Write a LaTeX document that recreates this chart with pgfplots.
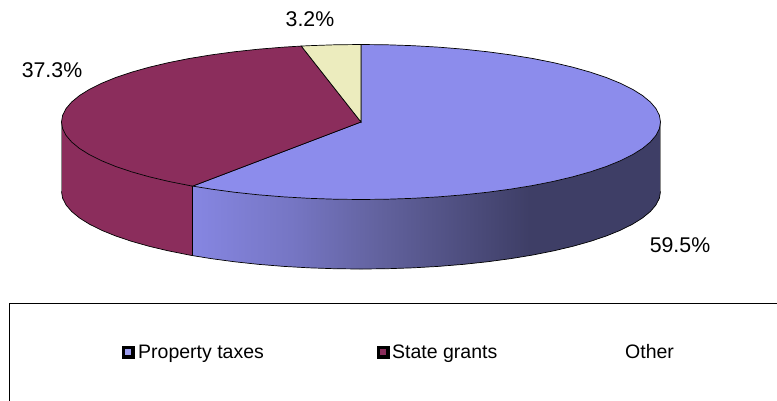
\documentclass[border=0pt]{standalone}
\usepackage{pgfplots}
\pgfplotsset{compat=1.18}
\usepackage{fontspec}
\setmainfont{Liberation Sans}

\definecolor{taxes}{HTML}{8C8CEC}
\definecolor{grants}{HTML}{8B2D5C}
\definecolor{other}{HTML}{ECECBE}
\definecolor{taxeslight}{HTML}{8686E2}
\definecolor{taxesmid}{HTML}{7676C4}
\definecolor{taxesdeep}{HTML}{62629E}
\definecolor{taxesdark}{HTML}{3E3E66}

% Rim of the property-tax slice, light on the left and dark towards the right
\pgfdeclarehorizontalshading{taxesrim}{100bp}{
  color(0bp)=(taxeslight); color(25bp)=(taxeslight); color(35.5bp)=(taxesmid);
  color(45bp)=(taxesdeep); color(61bp)=(taxesdark); color(100bp)=(taxesdark)}

\begin{document}
\begin{tikzpicture}
\useasboundingbox (0,0) rectangle (777pt,400pt);
\begin{axis}[
  at={(0,0)}, anchor=south west,
  scale only axis, width=777pt, height=400pt,
  axis lines=none,
  xmin=-1.20534, xmax=1.38898,
  ymin=-3.58710, ymax=1.57419,
  clip=true,
  every axis plot/.append style={line width=0.7pt},
]
% Outer wall, property taxes 59.5% (front right)
\addplot[draw=none, shade, shading=taxesrim] coordinates {
  (1,0) (.9962,-.0872) (.9848,-.1736) (.9659,-.2588) (.9397,-.3420) (.9063,-.4226)
  (.8660,-.5) (.8192,-.5736) (.7660,-.6428) (.7071,-.7071) (.6428,-.7660) (.5736,-.8192)
  (.5,-.8660) (.4226,-.9063) (.3420,-.9397) (.2588,-.9659) (.1736,-.9848) (.0872,-.9962)
  (0,-1) (-.0872,-.9962) (-.1736,-.9848) (-.2588,-.9659) (-.3420,-.9397) (-.4226,-.9063)
  (-.5,-.8660) (-.5621,-.8271)
  (-.5621,-1.7241) (-.5,-1.763) (-.4226,-1.8033) (-.3420,-1.8367) (-.2588,-1.8629)
  (-.1736,-1.8818) (-.0872,-1.8932) (0,-1.897) (.0872,-1.8932) (.1736,-1.8818)
  (.2588,-1.8629) (.3420,-1.8367) (.4226,-1.8033) (.5,-1.763) (.5736,-1.7162)
  (.6428,-1.663) (.7071,-1.6041) (.7660,-1.5398) (.8192,-1.4706) (.8660,-1.397)
  (.9063,-1.3196) (.9397,-1.239) (.9659,-1.1558) (.9848,-1.0706) (.9962,-.9842) (1,-.897)
} --cycle;
% Outer wall, state grants 37.3% (front left)
\addplot[draw=none, fill=grants] coordinates {
  (-.5621,-.8271) (-.5736,-.8192) (-.6428,-.7660) (-.7071,-.7071) (-.7660,-.6428)
  (-.8192,-.5736) (-.8660,-.5) (-.9063,-.4226) (-.9397,-.3420) (-.9659,-.2588)
  (-.9848,-.1736) (-.9962,-.0872) (-1,0)
  (-1,-.897) (-.9962,-.9842) (-.9848,-1.0706) (-.9659,-1.1558) (-.9397,-1.239)
  (-.9063,-1.3196) (-.8660,-1.397) (-.8192,-1.4706) (-.7660,-1.5398) (-.7071,-1.6041)
  (-.6428,-1.663) (-.5736,-1.7162) (-.5621,-1.7241)
} --cycle;
% Wall outline: pale silhouette edges, dark seam and lower rim
\addplot[draw=black!45, line width=0.6pt] coordinates {(1,0) (1,-.897)};
\addplot[draw=black!45, line width=0.6pt] coordinates {(-1,0) (-1,-.897)};
\addplot[draw=black] coordinates {(-.5621,-.8271) (-.5621,-1.7241)};
\addplot[draw=black] coordinates {
  (-1,-.897) (-.9962,-.9842) (-.9848,-1.0706) (-.9659,-1.1558) (-.9397,-1.239)
  (-.9063,-1.3196) (-.8660,-1.397) (-.8192,-1.4706) (-.7660,-1.5398) (-.7071,-1.6041)
  (-.6428,-1.663) (-.5736,-1.7162) (-.5621,-1.7241) (-.5,-1.763) (-.4226,-1.8033)
  (-.3420,-1.8367) (-.2588,-1.8629) (-.1736,-1.8818) (-.0872,-1.8932) (0,-1.897)
  (.0872,-1.8932) (.1736,-1.8818) (.2588,-1.8629) (.3420,-1.8367) (.4226,-1.8033)
  (.5,-1.763) (.5736,-1.7162) (.6428,-1.663) (.7071,-1.6041) (.7660,-1.5398)
  (.8192,-1.4706) (.8660,-1.397) (.9063,-1.3196) (.9397,-1.239) (.9659,-1.1558)
  (.9848,-1.0706) (.9962,-.9842) (1,-.897)
};
% Top face, property taxes: 0 to 214.2 degrees clockwise from twelve o'clock
\addplot[draw=black, fill=taxes] coordinates {
  (0,0) (0,1) (.0872,.9962) (.1736,.9848) (.2588,.9659) (.3420,.9397) (.4226,.9063)
  (.5,.8660) (.5736,.8192) (.6428,.7660) (.7071,.7071) (.7660,.6428) (.8192,.5736)
  (.8660,.5) (.9063,.4226) (.9397,.3420) (.9659,.2588) (.9848,.1736) (.9962,.0872)
  (1,0) (.9962,-.0872) (.9848,-.1736) (.9659,-.2588) (.9397,-.3420) (.9063,-.4226)
  (.8660,-.5) (.8192,-.5736) (.7660,-.6428) (.7071,-.7071) (.6428,-.7660) (.5736,-.8192)
  (.5,-.8660) (.4226,-.9063) (.3420,-.9397) (.2588,-.9659) (.1736,-.9848) (.0872,-.9962)
  (0,-1) (-.0872,-.9962) (-.1736,-.9848) (-.2588,-.9659) (-.3420,-.9397) (-.4226,-.9063)
  (-.5,-.8660) (-.5621,-.8271)
} --cycle;
% Top face, state grants: 214.2 to 348.5 degrees
\addplot[draw=black, fill=grants] coordinates {
  (0,0) (-.5621,-.8271) (-.5736,-.8192) (-.6428,-.7660) (-.7071,-.7071) (-.7660,-.6428)
  (-.8192,-.5736) (-.8660,-.5) (-.9063,-.4226) (-.9397,-.3420) (-.9659,-.2588)
  (-.9848,-.1736) (-.9962,-.0872) (-1,0) (-.9962,.0872) (-.9848,.1736) (-.9659,.2588)
  (-.9397,.3420) (-.9063,.4226) (-.8660,.5) (-.8192,.5736) (-.7660,.6428) (-.7071,.7071)
  (-.6428,.7660) (-.5736,.8192) (-.5,.8660) (-.4226,.9063) (-.3420,.9397) (-.2588,.9659)
  (-.1994,.9799)
} --cycle;
% Top face, other: 348.5 to 360 degrees
\addplot[draw=black, fill=other] coordinates {
  (0,0) (-.1994,.9799) (-.1736,.9848) (-.0872,.9962) (0,1)
} --cycle;

% Percentage labels
\node[anchor=center, font=\fontsize{21.3}{25}\selectfont] at (axis cs:-.1703,1.329) {3.2\%};
\node[anchor=center, font=\fontsize{21.3}{25}\selectfont] at (axis cs:-1.0317,.671) {37.3\%};
\node[anchor=center, font=\fontsize{21.3}{25}\selectfont] at (axis cs:1.0651,-1.587) {59.5\%};

% Legend frame, running off the lower right corner
\addplot[draw=black, line width=0.9pt] coordinates {(-1.1753,-3.6) (-1.1753,-2.3355) (1.4,-2.3355)};

% Legend keys: black square with a smaller coloured square on top
\addplot[only marks, mark=square*, mark size=6pt,
  mark options={fill=black, draw=none}] coordinates {(-.778,-2.970) (.0735,-2.970)};
\addplot[only marks, mark=square*, mark size=3.5pt,
  mark options={fill=taxes!85!white, draw=none}] coordinates {(-.778,-2.970)};
\addplot[only marks, mark=square*, mark size=3.5pt,
  mark options={fill=grants, draw=none}] coordinates {(.0735,-2.970)};

% Legend entries
\node[anchor=base west, inner sep=0pt, font=\fontsize{19.5}{24}\selectfont] at (axis cs:-.7446,-3.058) {Property taxes};
\node[anchor=base west, inner sep=0pt, font=\fontsize{19.5}{24}\selectfont] at (axis cs:.1035,-3.058) {State grants};
\node[anchor=base west, inner sep=0pt, font=\fontsize{19.5}{24}\selectfont] at (axis cs:.8815,-3.058) {Other};
\end{axis}
\end{tikzpicture}
\end{document}
